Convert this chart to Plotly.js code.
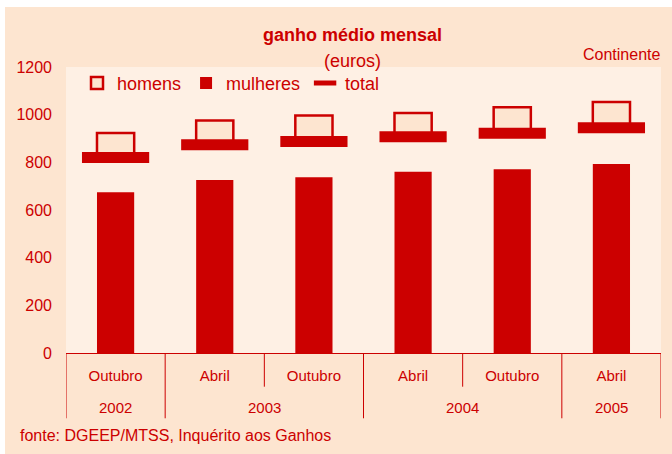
<!DOCTYPE html>
<html>
<head>
<meta charset="utf-8">
<script src="https://cdn.plot.ly/plotly-3.0.1.min.js"></script>
<style>
html,body{margin:0;padding:0;background:#ffffff;width:672px;height:454px;overflow:hidden;}
#chart{position:absolute;left:5px;top:7px;width:667px;height:447px;}
</style>
</head>
<body>
<div id="chart"></div>
<script>
// ---- data ----
const years  = ['2002', '2003', '2003', '2004', '2004', '2005'];
const months = ['Outubro', 'Abril', 'Outubro', 'Abril', 'Outubro', 'Abril'];
const homens   = [923, 976, 996, 1007, 1031, 1053];
const mulheres = [674, 726, 737, 761, 771, 793];
const total    = [820, 874, 887, 907, 922, 945];
const seriesNames = ['homens', 'mulheres', 'total'];
const yTicks = [0, 200, 400, 600, 800, 1000, 1200];

// ---- style ----
const RED = '#cc0000';
const PEACH = '#fde5d0';
const LIGHT = '#fef0e4';
const FONT = 'Liberation Sans, Arial, sans-serif';

// category keys (one per period) built from the labels
const cats = months.map((m, i) => m + ' ' + years[i]);

const traces = [
  {
    type: 'bar', name: seriesNames[0], x: cats,
    base: total,
    y: homens.map((h, i) => h - total[i]),
    width: 0.375,
    marker: {color: PEACH, line: {color: RED, width: 2.5}},
    hoverinfo: 'skip'
  },
  {
    type: 'bar', name: seriesNames[1], x: cats, y: mulheres,
    width: 0.375,
    marker: {color: RED, line: {width: 0}},
    hoverinfo: 'skip'
  },
  {
    type: 'scatter', mode: 'markers', name: seriesNames[2], x: cats, y: total,
    marker: {symbol: 'line-ew', size: 48, color: RED, line: {color: RED, width: 11}},
    hoverinfo: 'skip'
  }
];

// group boundaries (year changes) and inner boundaries
const shapes = [];
const annotations = [];
const yearGroups = [];
years.forEach((yv, i) => {
  if (i === 0 || years[i - 1] !== yv) yearGroups.push({year: yv, start: i, end: i});
  else yearGroups[yearGroups.length - 1].end = i;
});
yearGroups.forEach((g, gi) => {
  if (gi === 0) {
    shapes.push({type: 'line', xref: 'x', yref: 'paper', x0: g.start - 0.5, x1: g.start - 0.5, y0: 0, y1: -0.2283, line: {color: RED, width: 1}});
  }
  shapes.push({type: 'line', xref: 'x', yref: 'paper', x0: g.end + 0.5, x1: g.end + 0.5, y0: 0, y1: -0.2283, line: {color: RED, width: 1}});
  for (let k = g.start; k < g.end; k++) {
    shapes.push({type: 'line', xref: 'x', yref: 'paper', x0: k + 0.5, x1: k + 0.5, y0: 0, y1: -0.1178, line: {color: RED, width: 1}});
  }
  annotations.push({text: g.year, xref: 'x', yref: 'paper', x: (g.start + g.end) / 2, y: -0.19,
    xanchor: 'center', yanchor: 'middle', showarrow: false, font: {family: FONT, size: 15, color: RED}});
});

annotations.push(
  {text: '<b>ganho médio mensal</b>', xref: 'paper', yref: 'paper', x: 0.4815, y: 1.113,
   xanchor: 'center', yanchor: 'middle', showarrow: false, font: {family: FONT, size: 18, color: RED}},
  {text: '(euros)', xref: 'paper', yref: 'paper', x: 0.4815, y: 1.0215,
   xanchor: 'center', yanchor: 'middle', showarrow: false, font: {family: FONT, size: 18, color: RED}},
  {text: 'Continente', xref: 'paper', yref: 'paper', x: 1.002, y: 1.0444,
   xanchor: 'right', yanchor: 'middle', showarrow: false, font: {family: FONT, size: 16, color: RED}},
  {text: 'fonte: DGEEP/MTSS, Inquérito aos Ganhos', xref: 'paper', yref: 'paper', x: -0.0807, y: -0.29,
   xanchor: 'left', yanchor: 'middle', showarrow: false, font: {family: FONT, size: 16, color: RED}}
);

const layout = {
  width: 667, height: 447,
  margin: {l: 61, r: 11, t: 60, b: 101, pad: 0},
  paper_bgcolor: PEACH,
  plot_bgcolor: LIGHT,
  barmode: 'overlay',
  showlegend: true,
  legend: {
    orientation: 'h', x: 0.0185, xanchor: 'left', y: 1.0075, yanchor: 'top',
    bgcolor: 'rgba(0,0,0,0)', font: {family: FONT, size: 18, color: RED},
    traceorder: 'normal'
  },
  font: {family: FONT, color: RED},
  xaxis: {
    type: 'category',
    range: [-0.5, cats.length - 0.5],
    tickvals: cats, ticktext: months,
    showline: true, linecolor: RED, linewidth: 1,
    ticks: '', ticklabelstandoff: 9,
    showgrid: false, zeroline: false,
    tickfont: {family: FONT, size: 15, color: RED}
  },
  yaxis: {
    range: [0, 1200], tickvals: yTicks, ticktext: yTicks.map(String),
    showline: false, showgrid: false, zeroline: false, ticks: '',
    ticklabelstandoff: 13,
    tickfont: {family: FONT, size: 16, color: RED}
  },
  shapes: shapes,
  annotations: annotations
};

Plotly.newPlot('chart', traces, layout, {displayModeBar: false, staticPlot: true});
</script>
</body>
</html>
